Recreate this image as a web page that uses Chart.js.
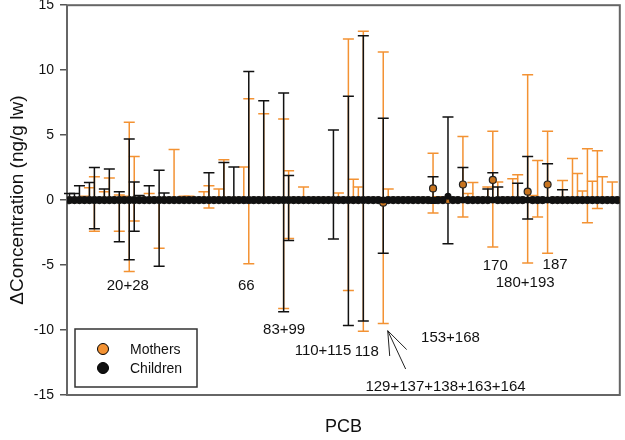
<!DOCTYPE html>
<html>
<head>
<meta charset="utf-8">
<script src="https://cdn.jsdelivr.net/npm/chart.js@4.4.1/dist/chart.umd.min.js"></script>
<style>
  html, body { margin: 0; padding: 0; background: #fff; }
  #wrap { width: 625px; height: 440px; }
</style>
</head>
<body>
<div id="wrap"><canvas id="pcb_chart"></canvas></div>
<script>
// PCB positions along the x axis (0 .. 110), one per congener
var pcbPositions = [];
for (var p = 0; p <= 110; p++) pcbPositions.push(p);

// mean change per PCB position
var childMean = [
    0, 0, 0, 0, 0, 0, 0, 0, 0, 0,
    0, 0, 0, 0, 0, 0, 0, 0, 0, 0,
    0, 0, 0, 0, 0, 0, 0, 0, 0, 0,
    0, 0, 0, 0, 0, 0, 0, 0, 0, 0,
    0, 0, 0, 0, 0, 0, 0, 0, 0, 0,
    0, 0, 0, 0, 0, 0, 0, 0, 0, 0,
    0, 0, 0, 0, 0, 0, 0, 0, 0, 0,
    0, 0, 0, 0, 0, 0, 0.3, 0, 0, 0,
    0, 0, 0, 0, 0, 0, 0, 0, 0, 0,
    0, 0, 0, 0, 0, 0, 0, 0, 0, 0,
    0, 0, 0, 0, 0, 0, 0, 0, 0, 0,
    0
];
var motherMean = [
    0, 0, 0, 0, 0, 0, 0, 0, 0, 0,
    0, 0, 0, 0, 0, 0, 0, 0, 0, 0,
    0, 0, 0, 0, 0, 0, 0, 0, 0, 0,
    0, 0, 0, 0, 0, 0, 0, 0, 0, 0,
    0, 0, 0, 0, 0, 0, 0, 0, 0, 0,
    0, 0, 0, 0, 0, 0, 0, 0, 0, 0,
    0, 0, 0, -0.2, 0, 0, 0, 0, 0, 0,
    0, 0, 0, 0.9, 0, 0, 0, 0, 0, 1.2,
    0, 0, 0, 0, 0, 1.55, 0, 0, 0, 0,
    0, 0, 0.65, 0, 0, 0, 1.2, 0, 0, 0,
    0, 0, 0, 0, 0, 0, 0, 0, 0, 0,
    0
];

// error bars (null = whisker hidden in the zero line)
var childBarPos  = [0, 1, 2, 4, 5, 7, 8, 10, 12, 13, 14, 16, 18, 19, 28, 31, 33, 36, 39, 43, 44, 53, 56, 59, 63, 73, 76, 79, 84, 85, 86, 90, 92, 96, 99];
var childBarLow  = [null, null, null, null, -2.2, null, null, -3.2, -4.6, -2.4, null, null, -5.1, null, null, null, null, -0.2, null, -8.6, -3.1, -3.0, -9.65, -9.3, -4.1, -0.25, -3.35, null, null, null, null, null, -1.45, null, null];
var childBarHigh = [0.5, 0.5, 1.1, 1.35, 2.5, 0.85, 2.4, 0.65, 4.7, 1.4, 0.35, 1.1, 2.3, 0.55, 2.1, 2.9, 2.55, 9.9, 7.65, 8.25, 1.9, 5.4, 8.0, 12.65, 6.3, 1.8, 6.4, 2.5, 0.85, 2.1, 1.0, 1.3, 3.35, 2.8, 0.8];

var motherBarPos  = [3, 4, 5, 7, 8, 10, 11, 12, 13, 16, 18, 21, 23, 24, 27, 28, 30, 31, 35, 36, 39, 43, 44, 47, 54, 56, 57, 58, 59, 63, 64, 73, 74, 79, 80, 81, 84, 85, 86, 89, 90, 92, 93, 94, 96, 99, 101, 102, 103, 104, 105, 106, 107, 109];
var motherBarLow  = [null, null, -2.4, null, null, -2.4, null, -5.5, -1.6, null, -3.7, null, null, null, null, -0.6, null, null, null, -4.9, null, -8.35, -2.95, null, null, -6.95, null, null, -10.1, -9.5, null, -1.0, null, -1.3, null, null, null, -3.6, null, null, null, -4.85, null, -1.3, -4.1, null, null, null, null, -1.75, null, -0.65, null, null];
var motherBarHigh = [0.3, 0.95, 1.8, 0.65, 1.7, 0.4, 0.3, 6.0, 3.35, 0.5, null, 3.9, 0.3, 0.3, 0.65, 1.1, 0.85, 3.1, 2.55, 7.8, 6.65, 6.25, 2.25, 1.0, 0.55, 12.4, 1.6, 1.0, 13.0, 11.4, 0.85, 3.6, 0.25, 4.9, 0.5, 1.35, 1.0, 5.3, 1.4, 1.65, 1.95, 9.65, 0.35, 3.05, 5.3, 1.5, 3.2, 2.05, 0.7, 3.95, 1.45, 3.8, 1.8, 1.4];

// congener labels written inside the plot, at [position, value]
var noteText = ["20+28", "66", "83+99", "110+115", "118", "129+137+138+163+164", "153+168", "170", "187", "180+193"];
var noteX    = [11.7, 35.5, 43.1, 50.9, 59.7, 75.5, 76.5, 85.5, 97.5, 91.5];
var noteY    = [-6.6, -6.6, -10.0, -11.6, -11.65, -14.35, -10.6, -5.05, -4.95, -6.4];

var yTicks = [-15, -10, -5, 0, 5, 10, 15];

var ORANGE = '#F39233';
var BLACK = '#111111';

function toPoints(means) {
    return pcbPositions.map(function (x, i) { return { x: x, y: means[i] }; });
}

var errorBars = {
    id: 'errorBars',
    beforeDatasetsDraw: function (chart) {
        var ctx = chart.ctx, xs = chart.scales.x, ys = chart.scales.y, a = chart.chartArea;
        // frame round the plot
        ctx.save();
        ctx.strokeStyle = '#666';
        ctx.lineWidth = 2;
        ctx.strokeRect(a.left, a.top, a.right - a.left, a.bottom - a.top);
        ctx.restore();

        function drawSet(pos, low, high, means, color) {
            ctx.save();
            ctx.strokeStyle = color;
            ctx.lineWidth = 1.5;
            pos.forEach(function (i, k) {
                var px = xs.getPixelForValue(i);
                var pm = ys.getPixelForValue(means[i]);
                [low[k], high[k]].forEach(function (v) {
                    if (v === null) return;
                    var pv = ys.getPixelForValue(v);
                    ctx.beginPath();
                    ctx.moveTo(px, pm);
                    ctx.lineTo(px, pv);
                    ctx.moveTo(px - 5.5, pv);
                    ctx.lineTo(px + 5.5, pv);
                    ctx.stroke();
                });
            });
            ctx.restore();
        }
        drawSet(motherBarPos, motherBarLow, motherBarHigh, motherMean, ORANGE);
        drawSet(childBarPos, childBarLow, childBarHigh, childMean, BLACK);
    },
    afterDatasetsDraw: function (chart) {
        var ctx = chart.ctx, xs = chart.scales.x, ys = chart.scales.y, a = chart.chartArea;
        ctx.save();
        ctx.fillStyle = BLACK;
        ctx.font = '15px "Liberation Sans", Arial, sans-serif';
        ctx.textAlign = 'center';
        ctx.textBaseline = 'middle';
        noteText.forEach(function (t, k) {
            ctx.fillText(t, xs.getPixelForValue(noteX[k]), ys.getPixelForValue(noteY[k]));
        });

        // pointer from the long label up to PCB 129+...
        var ax = xs.getPixelForValue(63.9), ay = ys.getPixelForValue(-10.05);
        ctx.strokeStyle = '#222';
        ctx.lineWidth = 1;
        ctx.beginPath();
        ctx.moveTo(ax, ay); ctx.lineTo(xs.getPixelForValue(64.3), ys.getPixelForValue(-12.0));
        ctx.moveTo(ax, ay); ctx.lineTo(xs.getPixelForValue(67.7), ys.getPixelForValue(-11.5));
        ctx.moveTo(ax, ay); ctx.lineTo(xs.getPixelForValue(67.5), ys.getPixelForValue(-13.0));
        ctx.stroke();

        // legend box
        var lx = a.left + 8, ly = a.bottom - 66;
        ctx.fillStyle = '#fff';
        ctx.fillRect(lx, ly, 122, 58);
        ctx.strokeStyle = '#333';
        ctx.lineWidth = 1.5;
        ctx.strokeRect(lx, ly, 122, 58);
        var rows = [{ label: 'Mothers', fill: ORANGE }, { label: 'Children', fill: BLACK }];
        ctx.font = '14px "Liberation Sans", Arial, sans-serif';
        ctx.textAlign = 'left';
        rows.forEach(function (r, k) {
            var cy = ly + 20 + k * 19;
            ctx.beginPath();
            ctx.arc(lx + 28, cy, 5.5, 0, Math.PI * 2);
            ctx.fillStyle = r.fill;
            ctx.fill();
            ctx.lineWidth = 1;
            ctx.strokeStyle = '#000';
            ctx.stroke();
            ctx.fillStyle = BLACK;
            ctx.fillText(r.label, lx + 55, cy + 1);
        });
        ctx.restore();
    }
};

new Chart(document.getElementById("pcb_chart").getContext("2d"), {
    type: 'scatter',
    data: {
        datasets: [{
            label: "Children",
            data: toPoints(childMean),
            backgroundColor: BLACK,
            borderColor: BLACK,
            pointRadius: 3.5,
            pointBorderWidth: 0,
            order: 0
        }, {
            label: "Mothers",
            data: toPoints(motherMean),
            backgroundColor: '#C8741F',
            borderColor: '#222',
            pointRadius: 3.5,
            pointBorderWidth: 1.2,
            order: 1
        }]
    },
    options: {
        responsive: true,
        maintainAspectRatio: false,
        animation: false,
        devicePixelRatio: 1,
        layout: { padding: { top: 5, right: 3, left: 0, bottom: 0 } },
        plugins: { legend: { display: false }, tooltip: { enabled: false } },
        scales: {
            x: {
                type: 'linear',
                min: -0.5,
                max: 110.5,
                ticks: { display: false },
                grid: { display: false },
                border: { display: false },
                title: {
                    display: true,
                    text: 'PCB',
                    color: BLACK,
                    font: { family: '"Liberation Sans", Arial, sans-serif', size: 18 },
                    padding: { top: 0, bottom: 2 }
                },
                afterFit: function (s) { s.height = 45; }
            },
            y: {
                min: -15,
                max: 15,
                afterBuildTicks: function (s) { s.ticks = yTicks.map(function (v) { return { value: v }; }); },
                ticks: {
                    color: BLACK,
                    padding: 6,
                    font: { family: '"Liberation Sans", Arial, sans-serif', size: 14 }
                },
                grid: { drawOnChartArea: false, drawTicks: true, tickLength: 7, color: '#555', lineWidth: 1.5 },
                border: { display: false },
                title: {
                    display: true,
                    text: '\u0394Concentration (ng/g lw)',
                    color: BLACK,
                    font: { family: '"Liberation Sans", Arial, sans-serif', size: 19 },
                    padding: { top: 6, bottom: 0 }
                },
                afterFit: function (s) { s.width = 67; s.paddingTop = 0; s.paddingBottom = 0; }
            }
        }
    },
    plugins: [errorBars]
});
</script>
</body>
</html>
